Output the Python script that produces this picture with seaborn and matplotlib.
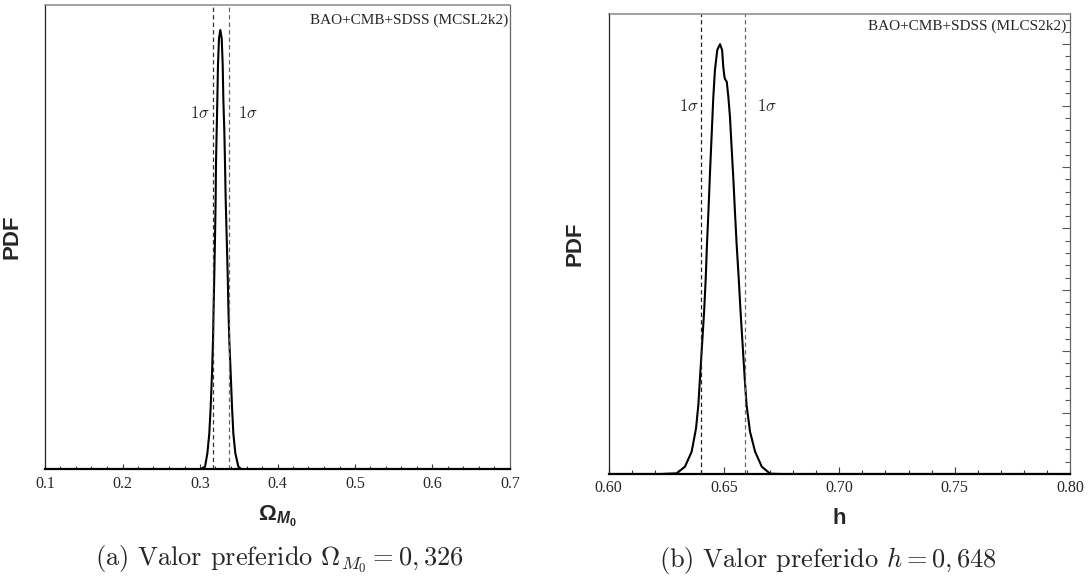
import matplotlib
matplotlib.use("Agg")
import matplotlib.pyplot as plt
from matplotlib.ticker import MultipleLocator, NullLocator
import seaborn as sns

# panel (a): Omega_M0 posterior (arbitrary PDF units)
omega = [0.1, 0.300, 0.3065, 0.3095, 0.3120, 0.3138, 0.3155, 0.3168, 0.3176,
         0.3185, 0.3194, 0.3202, 0.3206, 0.3215, 0.3224, 0.3232, 0.3245, 0.3262,
         0.3280, 0.3293, 0.3301, 0.3314, 0.3323, 0.3331, 0.3344, 0.3357, 0.3366,
         0.3378, 0.3396, 0.3413, 0.3430, 0.3456, 0.3495, 0.3538, 0.7]
pdf_omega = [0, 0, 0.28, 1.72, 3.87, 6.74, 10.33, 13.92, 17.51,
             21.10, 25.1, 29.18, 32.77, 36.36, 39.95, 43.54, 46.41, 47.31,
             46.41, 43.54, 39.95, 36.36, 32.77, 29.18, 25.1, 21.10, 17.51,
             13.92, 10.33, 6.74, 3.87, 1.72, 0.28, 0, 0]
sigma_omega = [0.3174, 0.3378]

# panel (b): h posterior
h = [0.60, 0.6223, 0.6295, 0.6331, 0.6360, 0.6379, 0.6389, 0.6396, 0.6405,
     0.6414, 0.6421, 0.6426, 0.6433, 0.6440, 0.6447, 0.6454, 0.6461, 0.6471,
     0.6483, 0.6492, 0.6497, 0.6502, 0.6505, 0.6512, 0.6519, 0.6526, 0.6533,
     0.6541, 0.6548, 0.6555, 0.6564, 0.6572, 0.6581, 0.6590, 0.6598, 0.6613,
     0.6635, 0.6664, 0.6700, 0.6750, 0.80]
pdf_h = [0, 0, 0.11, 1.19, 3.64, 7.44, 11.24, 15.58, 21.01,
         26.44, 31.87, 37.0, 43.0, 49.5, 55.5, 61.45, 65.8, 69.06,
         70.0, 69.06, 66.34, 64.71, 64.3, 63.9, 61.45, 58.20, 53.31,
         47.88, 42.45, 37.4, 31.87, 26.44, 21.01, 15.58, 11.24, 6.89,
         3.64, 1.19, 0.05, 0, 0]
sigma_h = [0.6399, 0.6591]

omega_ticks = [0.1, 0.2, 0.3, 0.4, 0.5, 0.6, 0.7]
h_ticks = [0.60, 0.65, 0.70, 0.75, 0.80]

sns.set_theme(style="white")
plt.rcParams["font.family"] = ["Liberation Serif", "DejaVu Serif"]
plt.rcParams["mathtext.fontset"] = "custom"
plt.rcParams["mathtext.rm"] = "Liberation Sans:bold"
plt.rcParams["mathtext.bf"] = "Liberation Sans:bold"
plt.rcParams["mathtext.it"] = "Liberation Sans:italic:bold"

W, H = 1091, 576
fig = plt.figure(figsize=(W / 100, H / 100), dpi=100)
ax1 = fig.add_axes([45 / W, (H - 469.3) / H, 465 / W, 464.3 / H])
ax2 = fig.add_axes([608.6 / W, (H - 474) / H, 461.4 / W, 460.5 / H])


def style(ax):
    for side in ["top", "right", "left", "bottom"]:
        ax.spines[side].set_visible(True)
    ax.spines["bottom"].set_color("black")
    ax.spines["bottom"].set_linewidth(1.6)
    ax.spines["left"].set_color("#222222")
    ax.spines["left"].set_linewidth(0.9)
    ax.spines["top"].set_color("#888888")
    ax.spines["top"].set_linewidth(1.1)
    ax.spines["right"].set_color("#666666")
    ax.spines["right"].set_linewidth(0.9)
    ax.tick_params(axis="x", which="both", direction="in", bottom=True,
                   top=False, color="#333333", pad=4.5)
    ax.set_facecolor("white")


sns.lineplot(x=omega, y=pdf_omega, ax=ax1, color="black", linewidth=1.5,
             estimator=None, sort=False)
for xv, c in zip(sigma_omega, ["#333333", "#666666"]):
    ax1.axvline(xv, color=c, linestyle=(0, (3.5, 2.5)), linewidth=0.9)
ax1.set_xlim(0.1, 0.7)
ax1.set_ylim(0, 50)
ax1.xaxis.set_minor_locator(MultipleLocator(0.02))
ax1.yaxis.set_major_locator(NullLocator())
style(ax1)
ax1.tick_params(axis="x", which="major", length=3.8, width=0.8)
ax1.tick_params(axis="x", which="minor", length=2.5, width=0.8)
ax1.set_xticks(omega_ticks)
ax1.set_xticklabels([f"{t:.1f}" for t in omega_ticks],
                    fontfamily="Liberation Serif", fontsize=11.5)
ax1.text(0.3174 - 0.0047, 38.3, r"$1\sigma$", ha="right", va="center",
         fontsize=12, math_fontfamily="cm")
ax1.text(0.3378 + 0.0115, 38.3, r"$1\sigma$", ha="left", va="center",
         fontsize=12, math_fontfamily="cm")
ax1.text(0.9957, 0.9677, "BAO+CMB+SDSS (MCSL2k2)", transform=ax1.transAxes,
         ha="right", va="center", fontsize=11, fontfamily="Liberation Serif")
ax1.set_ylabel("PDF", fontfamily="Liberation Sans", fontweight="bold",
               fontsize=16)
ax1.yaxis.set_label_coords(-0.048, 0.5)
ax1.set_xlabel(r"$\Omega_{M_0}$", fontsize=16)
ax1.xaxis.set_label_coords(0.5, (469.3 - 516.7) / 464.3)
ax1.xaxis.label.set_va("center")

sns.lineplot(x=h, y=pdf_h, ax=ax2, color="black", linewidth=1.5,
             estimator=None, sort=False)
for xv, c in zip(sigma_h, ["#222222", "#666666"]):
    ax2.axvline(xv, color=c, linestyle=(0, (3.5, 2.5)), linewidth=0.9)
ax2.set_xlim(0.60, 0.80)
ax2.set_ylim(0, 75)
ax2.xaxis.set_minor_locator(MultipleLocator(0.01))
ax2.yaxis.set_major_locator(MultipleLocator(10))
ax2.yaxis.set_minor_locator(MultipleLocator(2))
style(ax2)
ax2.tick_params(axis="x", which="major", length=4.8, width=0.8)
ax2.tick_params(axis="x", which="minor", length=3.0, width=0.8)
ax2.tick_params(axis="y", which="both", direction="in", left=False,
                right=True, labelleft=False, labelright=False,
                color="#555555", width=0.8)
ax2.tick_params(axis="y", which="major", length=5.8)
ax2.tick_params(axis="y", which="minor", length=3.6)
ax2.set_xticks(h_ticks)
ax2.set_xticklabels([f"{t:.2f}" for t in h_ticks],
                    fontfamily="Liberation Serif", fontsize=11.5)
ax2.text(0.6392, 59.8, r"$1\sigma$", ha="right", va="center",
         fontsize=12, math_fontfamily="cm")
ax2.text(0.6642, 59.8, r"$1\sigma$", ha="left", va="center",
         fontsize=12, math_fontfamily="cm")
ax2.text(0.9913, 0.9713, "BAO+CMB+SDSS (MLCS2k2)", transform=ax2.transAxes,
         ha="right", va="center", fontsize=11, fontfamily="Liberation Serif")
ax2.set_ylabel("PDF", fontfamily="Liberation Sans", fontweight="bold",
               fontsize=16)
ax2.yaxis.set_label_coords(-0.049, 0.5)
ax2.set_xlabel("h", fontfamily="Liberation Sans", fontweight="bold",
               fontsize=16)
ax2.xaxis.set_label_coords(0.5, (474 - 518.3) / 460.5)
ax2.xaxis.label.set_va("center")

fig.text(279 / W, 1 - 565 / H, r"(a) Valor preferido $\Omega_{M_0} = 0,326$",
         ha="center", va="baseline", fontsize=19, fontfamily="cmr10",
         math_fontfamily="cm")
fig.text(827.5 / W, 1 - 567 / H, r"(b) Valor preferido $h = 0,648$",
         ha="center", va="baseline", fontsize=19, fontfamily="cmr10",
         math_fontfamily="cm")

fig.savefig("out.png", dpi=100)
